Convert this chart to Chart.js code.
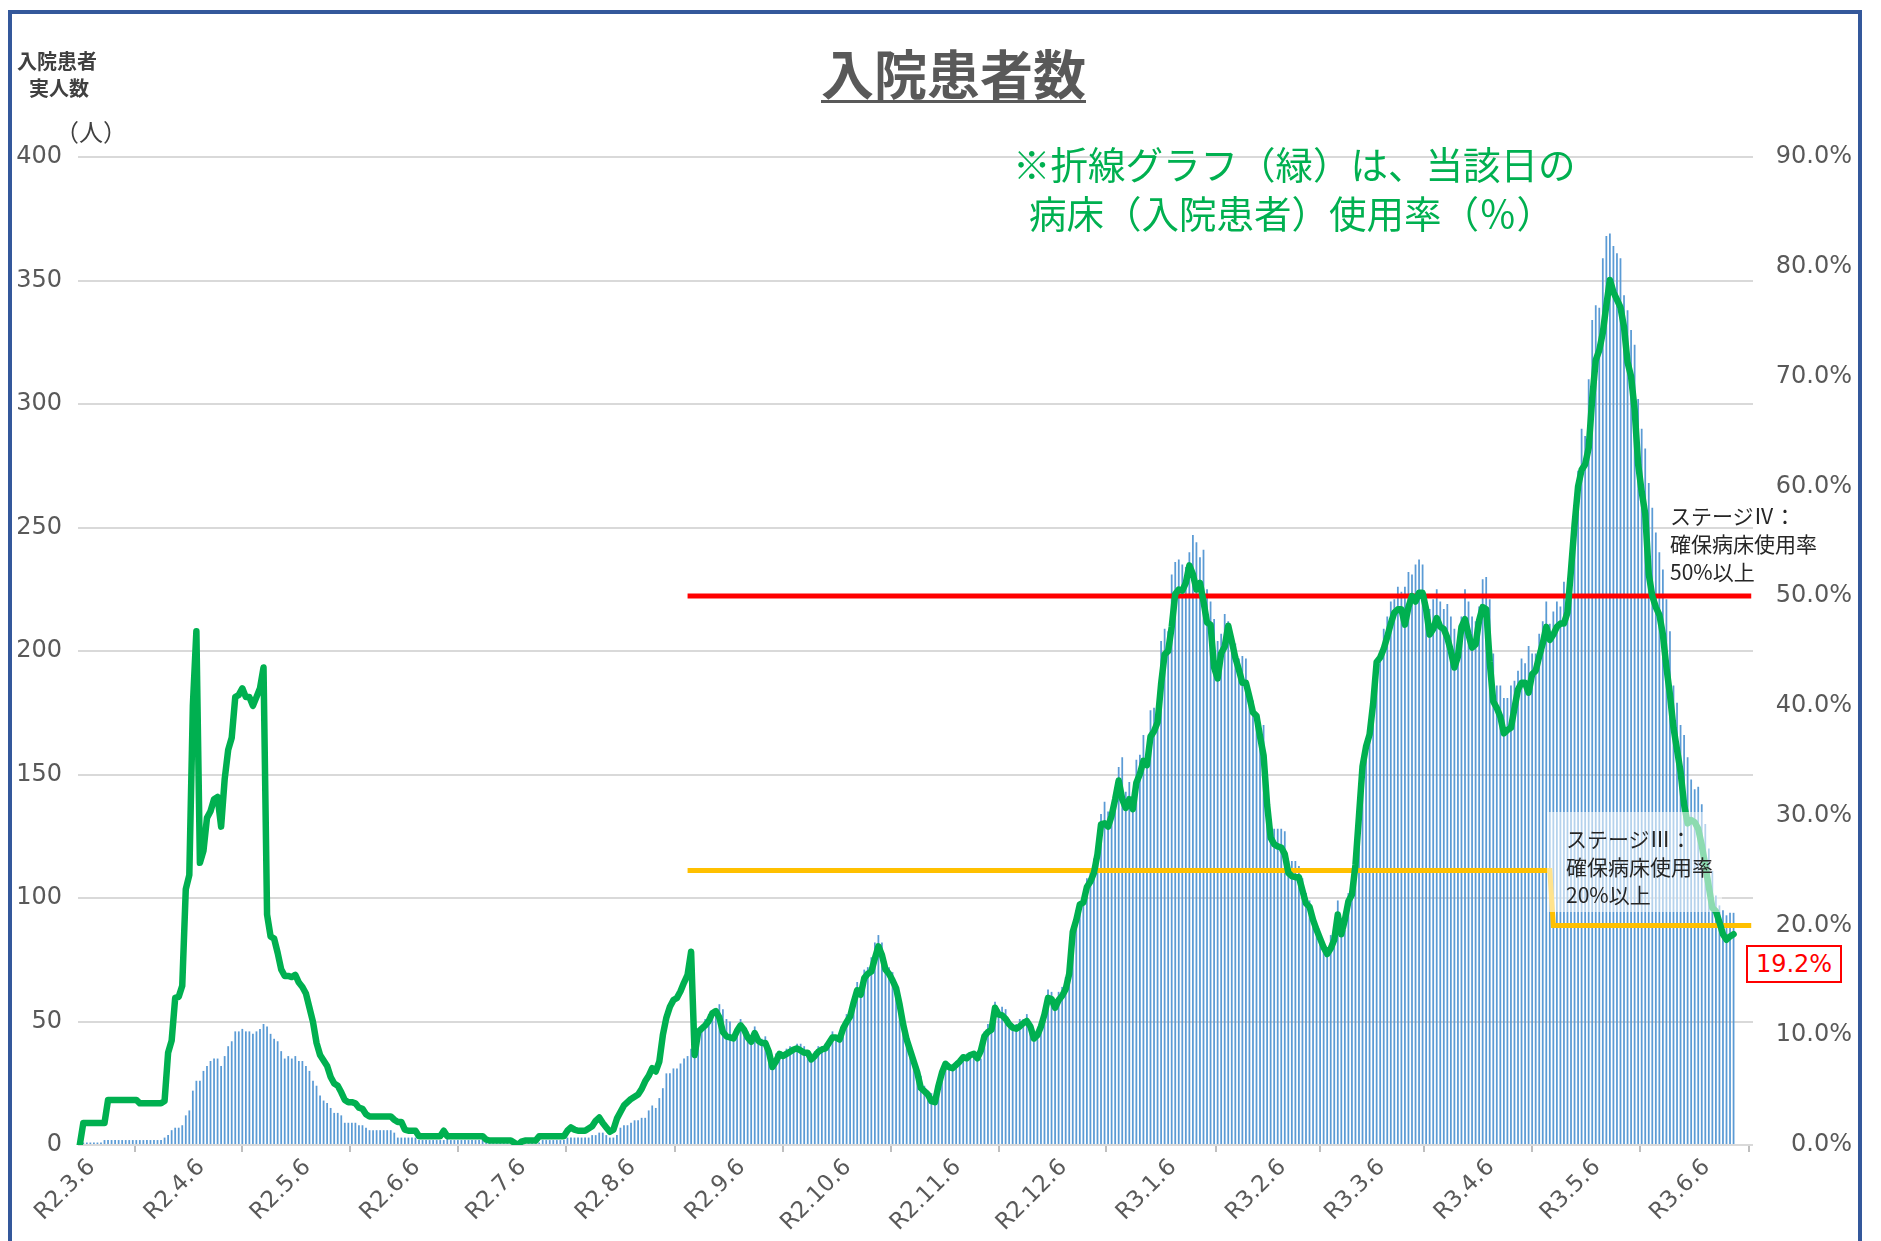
<!DOCTYPE html>
<html lang="ja">
<head>
<meta charset="utf-8">
<title>入院患者数</title>
<script src="https://cdn.jsdelivr.net/npm/chart.js@4.4.1/dist/chart.umd.min.js"></script>
<style>
html,body{margin:0;padding:0;background:#fff;overflow:hidden;}
#wrap{position:relative;width:1881px;height:1241px;font-family:"Noto Sans CJK JP","Noto Sans",sans-serif;}
#box{position:absolute;left:0;top:0;width:1881px;height:1241px;}
.frame{position:absolute;left:8px;top:10px;width:1854px;height:1300px;border:4px solid #34589b;box-sizing:border-box;pointer-events:none;}
.t{position:absolute;white-space:nowrap;line-height:1;}
#title{left:821px;top:46px;font-size:53px;font-weight:700;color:#595959;text-decoration:underline;text-decoration-thickness:3px;text-underline-offset:5px;}
.note{font-size:37.5px;color:#00b050;}
.ax{font-size:20px;font-weight:700;color:#404040;}
.stage{position:absolute;font-size:21px;line-height:28px;color:#262626;white-space:nowrap;}
#stage3{left:1547px;top:812px;width:175px;height:100px;box-sizing:border-box;padding:12px 0 0 19px;background:rgba(255,255,255,0.55);}
#last{position:absolute;left:1746px;top:945px;width:96px;height:38px;box-sizing:border-box;border:2px solid #ff0000;background:#fff;color:#ff0000;font-family:"DejaVu Sans",sans-serif;font-size:24px;line-height:34px;text-align:center;}
</style>
</head>
<body>
<div id="wrap">
  <div id="box"><canvas id="c"></canvas></div>
  <div class="t" id="title">入院患者数</div>
  <div class="t note" style="left:1013px;top:144px;">※折線グラフ（緑）は、当該日の</div>
  <div class="t note" style="left:1029px;top:193px;">病床（入院患者）使用率（％）</div>
  <div class="t ax" style="left:17px;top:51px;">入院患者</div>
  <div class="t ax" style="left:29px;top:78px;">実人数</div>
  <div class="t" style="left:55px;top:119px;font-size:24px;color:#404040;">（人）</div>
  <div class="stage" style="left:1670px;top:501px;">ステージⅣ：<br>確保病床使用率<br>50%以上</div>
  <div class="stage" id="stage3">ステージⅢ：<br>確保病床使用率<br>20%以上</div>
  <div id="last">19.2%</div>
  <div class="frame"></div>
</div>
<script>
// daily categories from R2.3.6, axis runs a few days past the last data day
const startDate = [2020, 2, 6];
const dayCount = 474;
const tickLabels = ['R2.3.6','R2.4.6','R2.5.6','R2.6.6','R2.7.6','R2.8.6','R2.9.6','R2.10.6',
  'R2.11.6','R2.12.6','R3.1.6','R3.2.6','R3.3.6','R3.4.6','R3.5.6','R3.6.6'];

// 入院患者実人数 (bars, left axis)
const patients = [
1,1,1,1,1,1,1,2,2,2, 2,2,2,2,2,2,2,2,2,2, 2,2,2,2,3,4,6,7,7,8,
12,14,22,26,26,30,32,34,35,35, 32,36,40,42,46,46,47,46,46,45, 46,47,49,48,45,43,42,38,35,36,
35,36,34,34,32,30,26,24,20,18, 17,15,13,13,12,9,9,9,9,8, 8,7,6,6,6,6,6,6,6,5,
3,3,3,3,3,3,2,2,2,2, 2,2,2,2,3,2,2,2,2,2, 2,2,2,2,2,2,1,1,1,1,
1,1,1,1,1,1,1,1,1,1, 1,2,2,2,2,2,2,2,3,3, 3,3,3,3,3,4,4,5,5,4,
3,3,4,7,8,8,9,10,10,11, 11,14,16,15,19,23,29,29,31,31, 33,35,36,39,42,46,48,51,53,54,
55,57,55,51,50,44,46,51,48,46, 44,48,43,43,44,40,33,37,38,37, 39,40,39,41,41,40,38,35,38,40,
40,41,43,46,44,45,49,53,54,60, 66,62,71,72,76,82,85,82,74,72, 70,66,59,49,43,40,36,32,28,24,
22,21,18,24,29,33,33,32,34,34, 36,37,37,38,36,35,46,49,47,58, 55,56,55,51,49,49,51,51,53,46,
43,45,49,55,63,62,59,62,64,68, 76,86,95,96,100,108,111,116,120,134, 139,135,134,141,153,157,143,147,143,156,
158,166,159,176,177,176,204,209,208,231, 236,237,235,234,240,247,244,238,241,225, 220,213,204,207,215,212,207,203,197,198,
197,184,180,175,171,170,141,131,128,128, 128,127,115,115,115,113,108,102,99,93, 89,85,82,80,85,84,99,90,87,102,
102,111,131,152,160,170,179,188,199,209, 214,220,221,226,224,226,232,231,235,237, 235,222,217,221,225,220,217,219,214,209,
204,214,225,220,214,212,218,229,230,221, 199,186,186,181,181,186,188,192,197,195, 202,199,199,207,212,220,211,216,220,218,
228,223,243,255,273,290,287,310,334,340, 339,359,368,369,364,361,359,344,338,330, 324,302,290,282,268,258,248,240,233,221,
208,186,179,170,166,157,148,144,145,138, 130,120,111,101,97,95,93,94,94
];

// 病床使用率 % (green line, right axis)
const bedRate = [
0,2,2,2,2,2,2,2,4.1,4.1, 4.1,4.1,4.1,4.1,4.1,4.1,4.1,3.8,3.8,3.8, 3.8,3.8,3.8,3.8,4.0,8.4,9.5,13.4,13.5,14.5,
23.3,24.6,40,46.8,25.7,26.8,29.8,30.4,31.5,31.7, 29.0,33.3,36.0,37.1,40.8,41.0,41.6,40.8,40.8,40.0, 40.8,41.6,43.5,21.0,19.0,18.8,17.5,16.0,15.4,15.4,
15.3,15.5,14.8,14.4,13.8,12.5,11.2,9.3,8.2,7.7, 7.2,6.2,5.6,5.4,4.8,4.1,3.9,3.9,3.8,3.4, 3.3,2.8,2.6,2.6,2.6,2.6,2.6,2.6,2.6,2.3,
2.1,2.1,1.4,1.3,1.3,1.3,0.8,0.8,0.8,0.8, 0.8,0.8,0.8,1.3,0.8,0.8,0.8,0.8,0.8,0.8, 0.8,0.8,0.8,0.8,0.8,0.5,0.4,0.4,0.4,0.4,
0.4,0.4,0.4,0.2,0,0.3,0.4,0.4,0.4,0.4, 0.8,0.8,0.8,0.8,0.8,0.8,0.8,0.8,1.3,1.6, 1.4,1.3,1.3,1.3,1.5,1.7,2.2,2.5,2.0,1.6,
1.2,1.4,2.4,3.0,3.6,3.9,4.2,4.4,4.6,5.1, 5.8,6.3,7.0,6.7,7.6,10.0,11.6,12.6,13.2,13.4, 14.0,14.8,15.5,17.6,8.2,10.3,10.6,10.9,11.3,12.0,
12.2,11.6,10.3,9.9,9.8,9.7,10.4,10.9,10.5,9.8, 9.4,10.2,9.5,9.3,9.3,8.5,7.1,7.6,8.3,8.1, 8.3,8.5,8.7,8.8,8.6,8.4,8.4,7.8,8.1,8.5,
8.7,8.8,9.3,9.8,9.8,9.6,10.6,11.2,11.7,13.0, 14.1,13.7,15.2,15.6,15.8,17.0,18.1,17.3,16.0,15.6, 15.0,14.3,12.8,11.0,9.6,8.6,7.6,6.6,5.2,4.9,
4.6,4.0,3.9,5.4,6.6,7.4,7.1,7.0,7.3,7.6, 8.0,7.9,8.2,8.3,7.9,8.6,9.9,10.3,10.5,12.5, 11.9,11.8,11.5,11.0,10.7,10.6,10.8,11.1,11.3,10.8,
9.7,10.0,10.8,11.9,13.4,13.3,12.5,13.2,13.6,14.2, 15.6,19.4,20.5,21.9,22.1,23.5,24.0,24.8,26.5,29.2, 29.3,29.0,30.0,31.5,33.2,31.5,30.7,31.5,30.6,33.0,
33.8,35.0,34.6,37.2,37.7,38.5,42.0,44.7,45.0,47.2, 50.2,50.6,50.5,51.2,52.8,52.0,50.6,51.2,49.5,47.6, 47.4,43.5,42.5,44.8,45.4,47.3,45.9,44.4,43.3,42.1,
42.1,40.8,39.4,39.1,37.2,35.5,31.0,28.0,27.4,27.2, 27.1,26.5,24.8,24.5,24.4,24.4,23.2,22.0,21.7,20.5, 19.6,18.8,18.0,17.4,17.9,18.7,21.0,19.2,20.5,22.2,
22.8,25.5,30.0,34.5,36.3,37.4,40.2,44.0,44.4,45.2, 46.3,47.5,48.5,48.8,48.8,47.4,49.0,50.0,49.5,50.3, 50.3,48.8,46.5,47.0,48.0,47.2,47.0,46.2,45.0,43.5,
44.5,47.2,47.9,46.5,45.3,45.6,47.8,49.0,48.8,44.0, 40.4,39.8,39.0,37.5,37.8,38.0,39.8,41.5,42.1,42.1, 41.2,42.9,43.2,44.5,45.7,47.2,46.0,46.5,47.2,47.5,
47.5,48.5,52.4,56.5,60.0,61.5,62.0,63.5,68.0,71.5, 72.4,74.0,76.5,78.8,77.7,77.0,76.3,74.5,71.3,70.0, 67.0,62.0,59.5,57.5,52.0,50.0,49.0,48.3,46.5,43.5,
41.0,38.0,36.0,34.0,31.0,29.3,29.6,29.4,28.8,27.3, 25.5,23.5,21.6,21.3,20.3,19.2,18.7,19.0,19.2
];

// stage thresholds (% of secured beds): [from day, to day, value]
const stage4Segments = [[172, 473, 50]];
const stage3Segments = [[172, 416, 25], [417, 473, 20]];

const labels = [];
for (let i = 0; i < dayCount; i++) {
  const d = new Date(Date.UTC(startDate[0], startDate[1], startDate[2] + i));
  labels.push('R' + (d.getUTCFullYear() - 2018) + '.' + (d.getUTCMonth() + 1) + '.' + d.getUTCDate());
}
function segPoints(segs){
  const pts = [];
  segs.forEach(s => { pts.push({x: labels[s[0]], y: s[2]}); pts.push({x: labels[s[1]], y: s[2]}); });
  return pts;
}

const tickFont = {family: '"DejaVu Sans", sans-serif', size: 24};
const grey = '#595959';

new Chart(document.getElementById('c'), {
  type: 'bar',
  data: {
    labels,
    datasets: [
      {type: 'line', data: bedRate, yAxisID: 'y2', borderColor: '#00b050', borderWidth: 6.5,
       pointRadius: 0, tension: 0, borderJoinStyle: 'round', borderCapStyle: 'round', order: 0},
      {type: 'line', data: segPoints(stage4Segments), yAxisID: 'y2', borderColor: '#ff0000',
       borderWidth: 5, pointRadius: 0, order: 1},
      {type: 'line', data: segPoints(stage3Segments), yAxisID: 'y2', borderColor: '#ffc000',
       borderWidth: 5, pointRadius: 0, order: 1},
      {data: patients, yAxisID: 'y', backgroundColor: '#5b9bd5', borderWidth: 0,
       barPercentage: 0.5, categoryPercentage: 1.0, order: 2}
    ]
  },
  options: {
    responsive: true,
    maintainAspectRatio: false,
    animation: false,
    layout: {padding: {top: 157, right: 29, bottom: 0, left: 0}},
    plugins: {legend: {display: false}, tooltip: {enabled: false}},
    scales: {
      x: {
        grid: {display: true, drawOnChartArea: false, drawTicks: true, tickLength: 7, color: '#bfbfbf', lineWidth: 2},
        border: {display: false},
        ticks: {
          autoSkip: false, maxRotation: 45, minRotation: 45, padding: 2, labelOffset: 12,
          color: grey, font: {family: '"DejaVu Sans", sans-serif', size: 23},
          callback: function(v){ const l = this.getLabelForValue(v); return tickLabels.includes(l) ? l : null; }
        },
        afterFit: s => { s.height = 96; }
      },
      y: {
        position: 'left', min: 0, max: 400,
        grid: {color: '#d9d9d9', lineWidth: 2, drawTicks: false},
        border: {display: false},
        ticks: {stepSize: 50, padding: 16, color: grey, font: tickFont},
        afterFit: s => { s.width = 78; }
      },
      y2: {
        position: 'right', min: 0, max: 90,
        grid: {display: false, drawTicks: false},
        border: {display: false},
        ticks: {stepSize: 10, crossAlign: 'far', color: grey, font: tickFont,
                callback: v => v.toFixed(1) + '%'},
        afterFit: s => { s.width = 99; }
      }
    }
  }
});
</script>
</body>
</html>
